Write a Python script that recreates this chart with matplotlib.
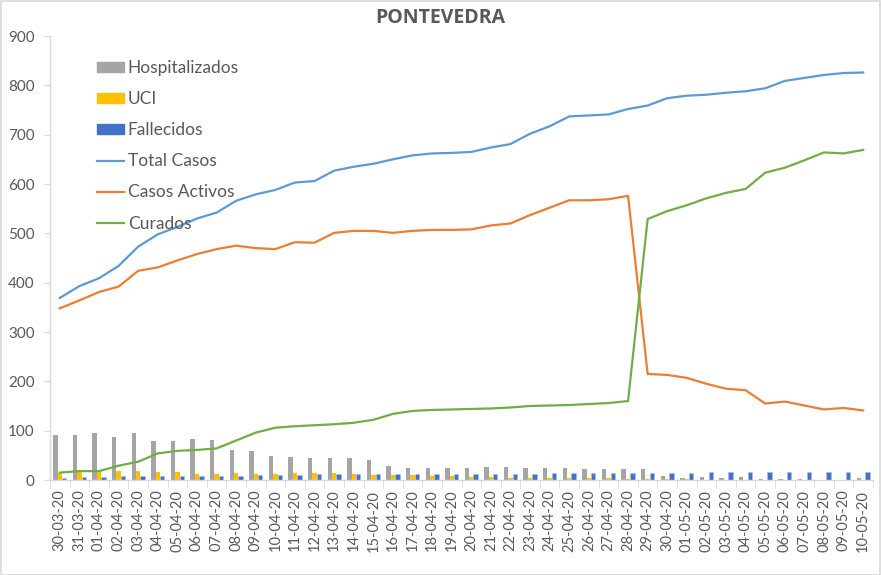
import matplotlib
matplotlib.use("Agg")
import matplotlib.pyplot as plt
import numpy as np
from matplotlib.patches import Rectangle, Patch
from matplotlib.lines import Line2D

dates = ["30-03-20", "31-03-20"] + [f"{d:02d}-04-20" for d in range(1, 31)] + [f"{d:02d}-05-20" for d in range(1, 11)]

hospitalizados = [92, 92, 95, 88, 95, 80, 80, 83, 82, 60, 58, 48, 47, 45, 44,
                  44, 40, 28, 24, 24, 24, 24, 26, 26, 24, 24, 24, 23, 22, 22,
                  22, 9, 5, 7, 5, 7, 3, 3, 3, 0, 0, 4]
uci = [14, 16, 18, 18, 18, 17, 17, 13, 13, 15, 12, 12, 15, 15, 15,
       12, 11, 11, 11, 9, 9, 7, 7, 5, 4, 4, 4, 4, 4, 3,
       3, 2, 2, 0, 0, 0, 0, 0, 0, 0, 0, 0]
fallecidos = [5, 7, 7, 8, 8, 8, 8, 9, 9, 9, 11, 11, 11, 12, 12,
              12, 12, 12, 12, 12, 13, 13, 13, 13, 13, 15, 15, 15, 15, 15,
              15, 15, 14, 16, 16, 16, 16, 16, 16, 16, 16, 16]
total_casos = [369, 393, 409, 434, 473, 498, 513, 530, 542, 566, 579, 588, 603, 606, 627,
               635, 641, 650, 658, 662, 663, 665, 674, 681, 702, 717, 737, 739, 741, 752,
               759, 774, 779, 781, 785, 788, 794, 809, 815, 821, 825, 826]
casos_activos = [348, 364, 381, 392, 424, 431, 445, 458, 468, 475, 470, 468, 482, 481, 501,
                 505, 505, 501, 505, 507, 507, 508, 516, 520, 537, 552, 567, 567, 569, 576,
                 215, 213, 207, 195, 185, 182, 155, 159, 151, 143, 146, 141]
curados = [15, 18, 18, 29, 37, 54, 59, 61, 64, 80, 96, 106, 109, 111, 113,
           116, 122, 134, 140, 142, 143, 144, 145, 147, 150, 151, 152, 154, 156, 160,
           529, 545, 557, 571, 582, 590, 623, 633, 648, 664, 662, 669]

FONT = ["Lato", "DejaVu Sans"]
plt.rcParams["font.family"] = FONT
TXT = "#595959"
GRID = "#D9D9D9"

W, H = 881, 575
fig = plt.figure(figsize=(W / 100, H / 100), dpi=100)
ax = fig.add_axes([50 / W, 1 - 480 / H, (873 - 50) / W, (480 - 36) / H])

x = np.arange(len(dates))
bw = 0.224
ax.bar(x - bw, hospitalizados, width=bw, color="#A5A5A5", zorder=2)
ax.bar(x, uci, width=bw, color="#FFC000", zorder=2)
ax.bar(x + bw, fallecidos, width=bw, color="#4472C4", edgecolor="#A9BFE6", linewidth=0.4, zorder=2)
ax.plot(x, total_casos, color="#5B9BD5", lw=1.6, zorder=3)
ax.plot(x, casos_activos, color="#ED7D31", lw=1.6, zorder=3)
ax.plot(x, curados, color="#70AD47", lw=1.6, zorder=3)

ax.set_xlim(-0.5, len(dates) - 0.5)
ax.set_ylim(0, 900)
ax.set_yticks(range(0, 901, 100))
ax.tick_params(axis="y", colors=GRID, labelcolor=TXT, labelsize=11, length=4, pad=7)
ax.set_xticks(x)
ax.set_xticklabels(dates, rotation=90, fontsize=10.5, color=TXT)
ax.set_xticks(np.arange(-0.5, len(dates), 1.0), minor=True)
ax.tick_params(axis="x", which="major", length=0, pad=7)
ax.tick_params(axis="x", which="minor", length=6, color=GRID)
for s in ["top", "right"]:
    ax.spines[s].set_visible(False)
for s in ["left", "bottom"]:
    ax.spines[s].set_color(GRID)
    ax.spines[s].set_linewidth(1.0)

handles = [Patch(color="#A5A5A5"), Patch(color="#FFC000"), Patch(color="#4472C4"),
           Line2D([], [], color="#5B9BD5", lw=1.6), Line2D([], [], color="#ED7D31", lw=1.6),
           Line2D([], [], color="#70AD47", lw=1.6)]
labels = ["Hospitalizados", "UCI", "Fallecidos", "Total Casos", "Casos Activos", "Curados"]
leg = ax.legend(handles, labels, loc="upper left", bbox_to_anchor=(97 / W, 1 - 60 / H),
                bbox_transform=fig.transFigure, frameon=False, fontsize=12.5,
                handlelength=1.55, handleheight=0.55, handletextpad=0.22,
                labelspacing=0.87, borderpad=0, borderaxespad=0)
for t in leg.get_texts():
    t.set_color(TXT)

fig.text(0.5, 1 - 18 / H, "PONTEVEDRA", ha="center", va="center", fontsize=14,
         fontweight="bold", color=TXT, family=["Open Sans", "DejaVu Sans"])

fig.patches.append(Rectangle((0.5 / W, 0.5 / H), 1 - 1.5 / W, 1 - 1.5 / H, transform=fig.transFigure,
                             fill=False, edgecolor=GRID, linewidth=1.2))

fig.savefig("out.png", dpi=100)
